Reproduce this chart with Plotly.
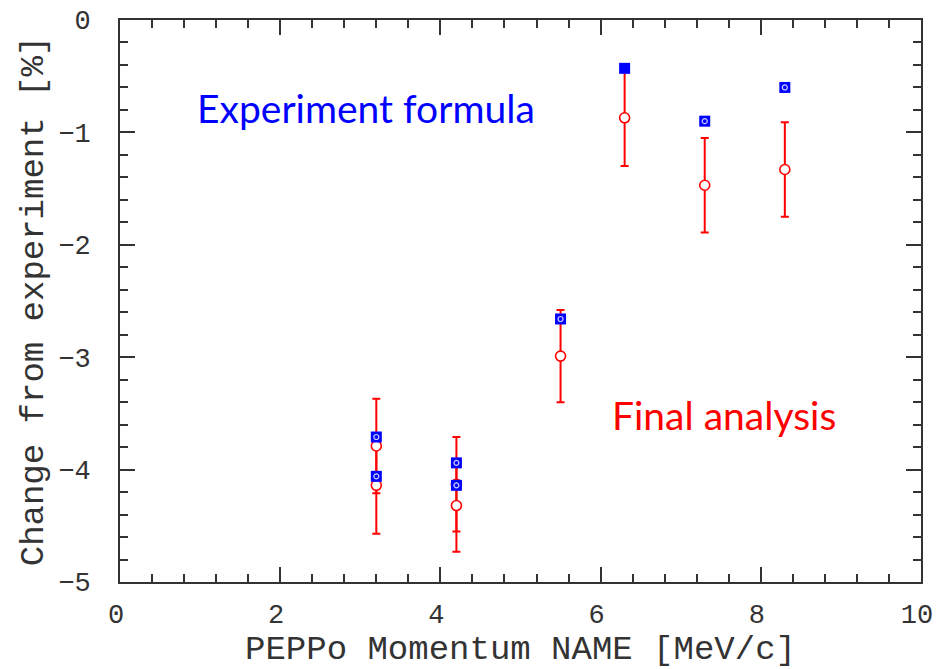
import plotly.graph_objects as go

# Final analysis (red circles with error bars)
final_x = [3.2, 3.2, 4.2, 4.2, 5.5, 6.3, 7.3, 8.3]
final_y = [-3.79, -4.14, -4.13, -4.32, -2.99, -0.87, -1.47, -1.33]
final_err = [0.42, 0.43, 0.42, 0.41, 0.41, 0.43, 0.42, 0.42]

# Experiment formula (blue squares)
exp_x = [3.2, 3.2, 4.2, 4.2, 5.5, 6.3, 7.3, 8.3]
exp_y = [-3.71, -4.06, -3.94, -4.14, -2.66, -0.43, -0.90, -0.60]
# blue squares that carry a small inner circle
inner_x = [3.2, 3.2, 4.2, 4.2, 5.5, 7.3, 8.3]
inner_y = [-3.71, -4.06, -3.94, -4.14, -2.66, -0.90, -0.60]

axis_font = dict(family="Liberation Mono, DejaVu Sans Mono, monospace", size=27, color="#333333")
title_font = dict(family="Liberation Mono, DejaVu Sans Mono, monospace", size=34, color="#333333")

fig = go.Figure()
fig.add_trace(go.Scatter(
    x=final_x, y=final_y, mode="markers",
    marker=dict(symbol="circle", size=10, color="white", line=dict(color="#ff0000", width=1.6)),
    error_y=dict(type="data", array=final_err, visible=True, color="#ff0000", thickness=2, width=4),
    showlegend=False,
))
fig.add_trace(go.Scatter(
    x=exp_x, y=exp_y, mode="markers",
    marker=dict(symbol="square", size=11, color="#0000ff", line=dict(width=0)),
    showlegend=False,
))
fig.add_trace(go.Scatter(
    x=inner_x, y=inner_y, mode="markers",
    marker=dict(symbol="circle-open", size=5, color="#d0d0ff", line=dict(width=1.2)),
    showlegend=False,
))

fig.add_annotation(x=3.07, y=-0.78, xref="x", yref="y", xanchor="center", yanchor="middle",
                   text="Experiment formula", showarrow=False,
                   font=dict(family="Lato, Open Sans, sans-serif", size=39, color="#0000ff"))
fig.add_annotation(x=7.54, y=-3.51, xref="x", yref="y", xanchor="center", yanchor="middle",
                   text="Final analysis", showarrow=False,
                   font=dict(family="Lato, Open Sans, sans-serif", size=39, color="#ff0000"))

common = dict(
    showline=True, linecolor="#333333", linewidth=2, mirror="allticks",
    ticks="inside", ticklen=15, tickwidth=2, tickcolor="#333333",
    showgrid=False, zeroline=False, tickfont=axis_font, ticklabeloverflow="allow",
    automargin=False,
)
fig.update_xaxes(
    range=[0, 10], dtick=2, tick0=0,
    minor=dict(ticks="inside", dtick=0.4, ticklen=8, tickwidth=2, tickcolor="#333333", showgrid=False),
    title=dict(text="PEPPo Momentum NAME [MeV/c]", font=title_font, standoff=2),
    ticklabelstandoff=7, ticklabelshift=-4,
    **common,
)
fig.update_yaxes(
    range=[-5, 0], dtick=1, tick0=0,
    minor=dict(ticks="inside", dtick=0.2, ticklen=8, tickwidth=2, tickcolor="#333333", showgrid=False),
    title=dict(text="Change from experiment [%]", font=title_font, standoff=4),
    ticklabelstandoff=22,
    **common,
)
fig.update_layout(
    width=936, height=669,
    margin=dict(l=120, r=15, t=20, b=87),
    plot_bgcolor="white", paper_bgcolor="white",
)
fig.write_html("out.html")
